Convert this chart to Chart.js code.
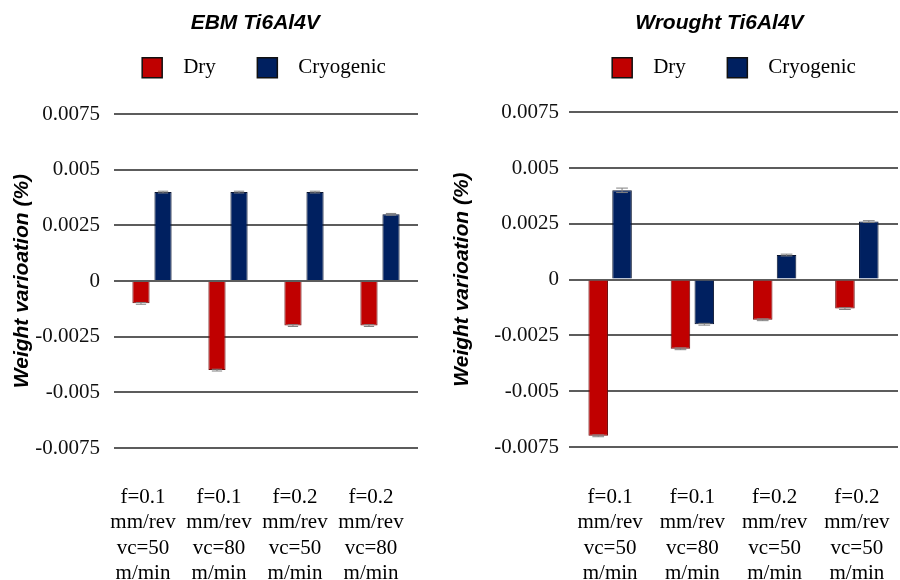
<!DOCTYPE html>
<html>
<head>
<meta charset="utf-8">
<script src="https://cdn.jsdelivr.net/npm/chart.js@4.4.0/dist/chart.umd.min.js"></script>
<style>
  html, body { margin: 0; padding: 0; background: #fff; overflow: hidden; width: 900px; height: 580px; }
  #wrap { position: relative; width: 900px; height: 580px; overflow: hidden; }
  canvas { position: absolute; top: 0; }
  #ebm { left: 0; }
  #wrought { left: 448px; }
</style>
</head>
<body>
<div id="wrap">
  <canvas id="ebm" width="528" height="580"></canvas>
  <canvas id="wrought" width="572" height="580"></canvas>
</div>
<script>
// categories
const ebmLabels = [
  ["f=0.1", "mm/rev", "vc=50", "m/min"],
  ["f=0.1", "mm/rev", "vc=80", "m/min"],
  ["f=0.2", "mm/rev", "vc=50", "m/min"],
  ["f=0.2", "mm/rev", "vc=80", "m/min"],
];
const wroughtLabels = [
  ["f=0.1", "mm/rev", "vc=50", "m/min"],
  ["f=0.1", "mm/rev", "vc=80", "m/min"],
  ["f=0.2", "mm/rev", "vc=50", "m/min"],
  ["f=0.2", "mm/rev", "vc=50", "m/min"],
];

// weight variation (%)
const ebmDry = [-0.001, -0.004, -0.002, -0.002];
const ebmCryo = [0.004, 0.004, 0.004, 0.003];
const ebmDryErr = [0.00004, 0.00004, 0.00004, 0.00004];
const ebmCryoErr = [0.00004, 0.00004, 0.00004, 0.00004];

const wroughtDry = [-0.007, -0.0031, -0.0018, -0.0013];
const wroughtCryo = [0.004, -0.002, 0.0011, 0.0026];
const wroughtDryErr = [0.00004, 0.00004, 0.00004, 0.00004];
const wroughtCryoErr = [0.0001, 0.00004, 0.00004, 0.00004];

// y axis ticks
const yTickValues = [-0.0075, -0.005, -0.0025, 0, 0.0025, 0.005, 0.0075];
const yTickLabels = ["-0.0075", "-0.005", "-0.0025", "0", "0.0025", "0.005", "0.0075"];

const serif = "'Liberation Serif', 'Times New Roman', serif";
const sans = "'Liberation Sans', Arial, sans-serif";

// small grey error caps at the end of each bar
const errorCaps = {
  id: "errorCaps",
  afterDatasetsDraw(chart) {
    const { ctx } = chart;
    const y = chart.scales.y;
    ctx.save();
    ctx.strokeStyle = "#808080";
    ctx.lineWidth = 1;
    chart.data.datasets.forEach((ds, i) => {
      const meta = chart.getDatasetMeta(i);
      meta.data.forEach((bar, j) => {
        const v = ds.data[j];
        const e = ds.errors[j];
        const yTop = y.getPixelForValue(v + e);
        const yBot = y.getPixelForValue(v - e);
        const half = bar.width * 0.3;
        ctx.beginPath();
        ctx.moveTo(bar.x, yTop);
        ctx.lineTo(bar.x, yBot);
        ctx.moveTo(bar.x - half, yTop);
        ctx.lineTo(bar.x + half, yTop);
        ctx.moveTo(bar.x - half, yBot);
        ctx.lineTo(bar.x + half, yBot);
        ctx.stroke();
      });
    });
    ctx.restore();
  },
};

function makeChart(id, title, labels, dry, dryErr, cryo, cryoErr, opt) {
  return new Chart(document.getElementById(id), {
    type: "bar",
    data: {
      labels: labels,
      datasets: [
        {
          label: "Dry",
          data: dry,
          errors: dryErr,
          backgroundColor: "#c00000",
          borderColor: "#6b0d0d",
          borderWidth: 1,
          categoryPercentage: opt.cat,
          barPercentage: opt.bar,
        },
        {
          label: "Cryogenic",
          data: cryo,
          errors: cryoErr,
          backgroundColor: "#002060",
          borderColor: "#0a1530",
          borderWidth: 1,
          categoryPercentage: opt.cat,
          barPercentage: opt.bar,
        },
      ],
    },
    options: {
      responsive: false,
      animation: false,
      layout: { padding: 0 },
      plugins: {
        title: {
          display: true,
          // trailing spaces nudge the centred title a little to the left
          text: title + " ".repeat(opt.titleNudge),
          color: "#000",
          font: { family: sans, size: 21, weight: "bold", style: "italic", lineHeight: 1.2 },
          padding: { top: 11, bottom: 11 },
        },
        legend: {
          display: true,
          labels: {
            color: "#000",
            font: { family: serif, size: 21 },
            boxWidth: 20,
            boxHeight: 20,
            padding: 10,
            generateLabels(chart) {
              const items = Chart.defaults.plugins.legend.labels.generateLabels(chart);
              return items.map((it, i) => {
                it.text = "  " + it.text + (i === 0 ? "      " : "");
                it.strokeStyle = "#111";
                it.lineWidth = 1.5;
                return it;
              });
            },
          },
        },
        // spacer between legend and plot
        subtitle: {
          display: true,
          text: "",
          weight: 500,
          font: { size: 1, lineHeight: 1 },
          padding: { top: opt.gap, bottom: 0 },
        },
        tooltip: { enabled: false },
      },
      scales: {
        x: {
          grid: { display: false },
          border: { display: false },
          ticks: {
            color: "#000",
            font: { family: serif, size: 21, lineHeight: 1.2 },
            padding: opt.xPad,
            labelOffset: opt.labelOffset,
            maxRotation: 0,
            autoSkip: false,
          },
          afterFit: (scale) => { scale.height = opt.xHeight; },
        },
        y: {
          min: -0.0075,
          max: 0.0075,
          border: { display: false },
          grid: { color: "#5c5c5c", lineWidth: 2, drawTicks: false },
          afterBuildTicks: (scale) => { scale.ticks = yTickValues.map((v) => ({ value: v })); },
          ticks: {
            color: "#111",
            font: { family: serif, size: 21 },
            padding: opt.yPad,
            callback: (v, i) => yTickLabels[i],
          },
          title: {
            display: true,
            text: "Weight varioation (%)",
            color: "#000",
            font: { family: sans, size: 21, weight: "bold", style: "italic", lineHeight: 1.2 },
            padding: { top: opt.yTitlePad, bottom: 0 },
          },
          afterFit: (scale) => { scale.width = opt.yWidth; },
        },
        // empty axis on the right, only reserves room
        pad: {
          type: "linear",
          position: "right",
          grid: { display: false },
          border: { display: false },
          ticks: { display: false },
          afterFit: (scale) => { scale.width = opt.rightWidth; },
        },
      },
    },
    plugins: [errorCaps],
  });
}

makeChart("ebm", "EBM Ti6Al4V", ebmLabels, ebmDry, ebmDryErr, ebmCryo, ebmCryoErr, {
  cat: 0.58, bar: 0.78, gap: 25, xPad: 29, xHeight: 132, labelOffset: -9,
  yPad: 14, yWidth: 114, rightWidth: 110, yTitlePad: 10, titleNudge: 3,
});

makeChart("wrought", "Wrought Ti6Al4V", wroughtLabels, wroughtDry, wroughtDryErr, wroughtCryo, wroughtCryoErr, {
  cat: 0.58, bar: 0.82, gap: 23, xPad: 30, xHeight: 133, labelOffset: 0,
  yPad: 10, yWidth: 121, rightWidth: 122, yTitlePad: 2, titleNudge: 5,
});
</script>
</body>
</html>
